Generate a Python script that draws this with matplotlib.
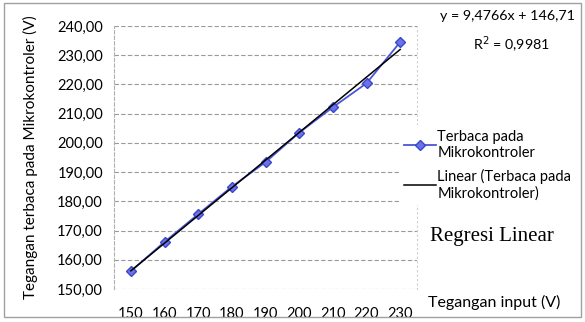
import matplotlib
matplotlib.use("Agg")
import matplotlib.pyplot as plt
import numpy as np

categories = ["150", "160", "170", "180", "190", "200", "210", "220", "230"]
measured = [156.1, 166.1, 175.6, 185.0, 193.4, 203.5, 212.2, 220.4, 234.5]
yticks = [150, 160, 170, 180, 190, 200, 210, 220, 230, 240]
ytick_labels = ["150,00", "160,00", "170,00", "180,00", "190,00", "200,00",
                "210,00", "220,00", "230,00", "240,00"]
eq_text = "y = 9,4766x + 146,71"
r2_text = "R$^2$ = 0,9981"

plt.rcParams['font.family'] = ['Lato', 'DejaVu Sans']

fig = plt.figure(figsize=(5.85, 3.22), dpi=100)
ax = fig.add_axes([114/585, 33/322, (417-114)/585, (289-26)/322])

x = np.arange(1, len(categories) + 1)
line_data, = ax.plot(x, measured, color="#4b55d8", lw=1.3, marker="D",
                     markersize=5.5, markerfacecolor="#6a74e8",
                     markeredgecolor="#3c46c8", zorder=3,
                     label="Terbaca pada\nMikrokontroler")
coef = np.polyfit(x, measured, 1)
trend, = ax.plot(x, np.polyval(coef, x), color="black", lw=1.1, zorder=4,
                 label="Linear (Terbaca pada\nMikrokontroler)")

ax.set_xlim(0.5, len(categories) + 0.5)
ax.set_ylim(150, 240)
ax.set_xticks(x)
ax.set_xticklabels(categories, fontsize=10.5)
ax.set_yticks(yticks)
ax.set_yticklabels(ytick_labels, fontsize=10.5)
ax.tick_params(length=0, pad=8)
ax.tick_params(axis='x', pad=13)
ax.yaxis.grid(True, color="#9a9a9a", lw=0.8, ls=(0, (4, 2)))
ax.set_axisbelow(True)
for s in ["top", "bottom"]:
    ax.spines[s].set_visible(False)
ax.spines["left"].set_color("#b0b0b0")
ax.spines["left"].set_linestyle((0, (3, 2)))
ax.spines["right"].set_color("#cfcfcf")
ax.spines["right"].set_linestyle((0, (1, 3)))

ax.set_ylabel("Tegangan terbaca pada Mikrokontroler (V)", fontsize=11,
              labelpad=14)

leg = fig.legend(handles=[line_data, trend], loc="upper left",
                 bbox_to_anchor=(392/585, 1 - 118/322), frameon=True,
                 fontsize=10.5, handlelength=2.2, handletextpad=0.1,
                 labelspacing=0.6, borderpad=0.3)
leg.get_frame().set_edgecolor("none")
leg.get_frame().set_facecolor("white")
leg.get_frame().set_alpha(1)

fig.text(507/585, 1 - 16/322, eq_text, fontsize=10.3, ha="center", va="center")
fig.text(511/585, 1 - 45/322, r2_text, fontsize=10.3, ha="center", va="center")
fig.text(492/585, 1 - 236/322, "Regresi Linear", fontsize=15,
         family="Liberation Serif", ha="center", va="center")
fig.text(494/585, 1 - 302/322, "Tegangan input (V)", fontsize=11.5,
         ha="center", va="center")

border = plt.Rectangle((0.006, 0.015), 0.988, 0.975, transform=fig.transFigure,
                       fill=False, edgecolor="#a0a0a0", lw=1)
fig.add_artist(border)

fig.savefig("out.png", dpi=100)
